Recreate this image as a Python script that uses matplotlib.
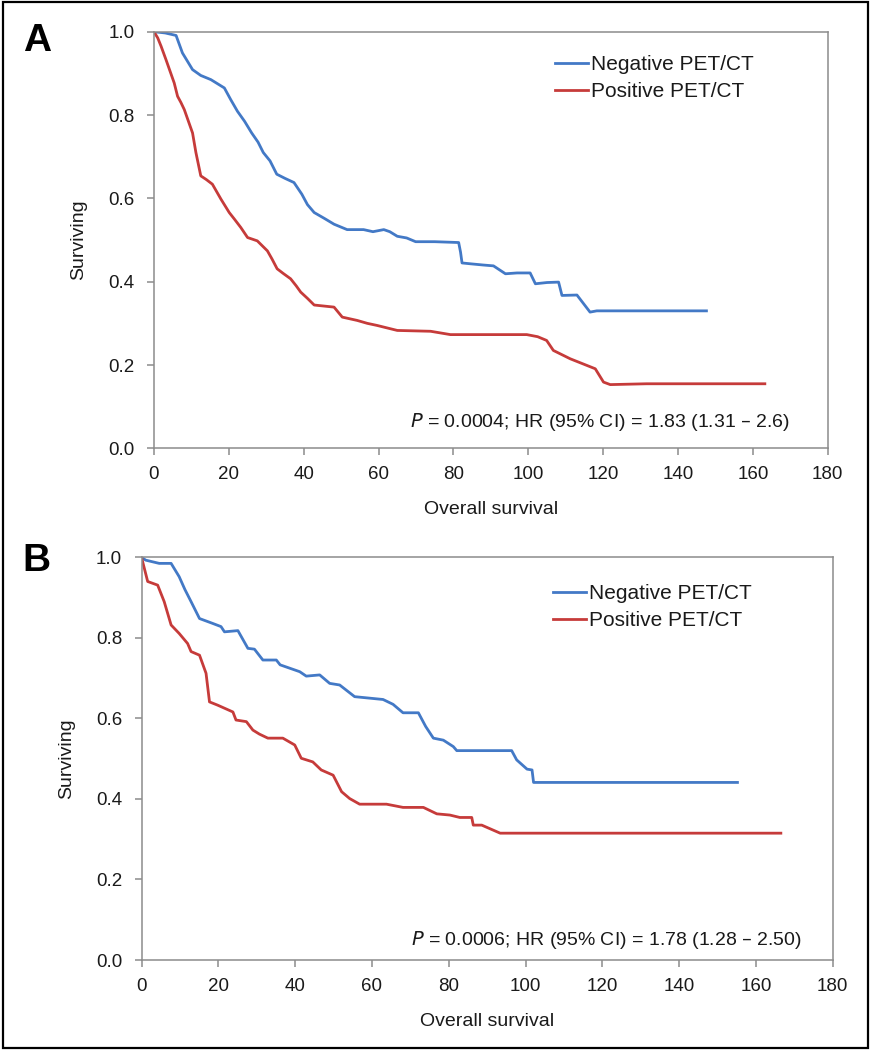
import matplotlib
matplotlib.use("Agg")
import matplotlib.pyplot as plt
from matplotlib.patches import Rectangle

plt.rcParams['font.family'] = ['Liberation Sans', 'DejaVu Sans']

# Panel A - overall survival (months) vs surviving fraction
a_neg_t = [0, 3, 5.9, 7.6, 10.3, 12.5, 15.2, 18.8, 20.5, 22.3, 24.2, 26.1, 27.8, 29.2, 31.0,
           32.8, 35.0, 37.4, 39.5, 41.0, 42.8, 45.5, 48.1, 51.6, 56, 58.5, 61.4, 63, 65, 67.5,
           69.9, 75, 81.4, 81.9, 82.3, 84.5, 88, 90.7, 93.9, 97, 100.5, 101.9, 105, 108.1,
           109, 113, 116.5, 118.3, 147.6]
a_neg_s = [1.0, 0.997, 0.991, 0.949, 0.909, 0.895, 0.885, 0.865, 0.837, 0.809, 0.785, 0.757,
           0.735, 0.71, 0.69, 0.658, 0.648, 0.638, 0.61, 0.585, 0.566, 0.552, 0.538, 0.525,
           0.525, 0.52, 0.525, 0.52, 0.509, 0.505, 0.496, 0.496, 0.494, 0.471, 0.445, 0.443,
           0.44, 0.438, 0.419, 0.421, 0.421, 0.395, 0.398, 0.399, 0.367, 0.368, 0.327, 0.330,
           0.330]
a_pos_t = [0, 1.0, 1.9, 3.2, 4.3, 5.4, 6.3, 7.2, 8.1, 9.2, 10.3, 11.2, 12.5, 14.0, 15.6, 17.9,
           20.1, 21.5, 23.2, 25, 27.6, 30.3, 31.5, 32.9, 34.5, 36.5, 38, 39.2, 41, 42.8, 48.1,
           50.3, 54.3, 57, 59.6, 65, 73.9, 79.2, 99.6, 102.5, 104.9, 106.7, 111.2, 117.9,
           120.1, 121.9, 131.6, 163.2]
a_pos_s = [1.0, 0.985, 0.965, 0.933, 0.905, 0.877, 0.845, 0.83, 0.813, 0.785, 0.757, 0.71,
           0.654, 0.645, 0.634, 0.598, 0.566, 0.55, 0.530, 0.506, 0.498, 0.474, 0.455, 0.431,
           0.42, 0.407, 0.39, 0.375, 0.36, 0.344, 0.339, 0.315, 0.307, 0.3, 0.295, 0.283,
           0.281, 0.273, 0.273, 0.268, 0.259, 0.235, 0.215, 0.191, 0.159, 0.153, 0.155, 0.155]

# Panel B
b_neg_t = [0, 1.1, 4.6, 7.7, 9.8, 11.3, 12.9, 15.1, 18.5, 20.7, 21.6, 25.1, 27.7, 29.4, 31.6,
           35.1, 36.1, 41.2, 42.9, 46.4, 49, 51.6, 55.5, 62.9, 65.5, 68.1, 72.1, 74, 76, 78.6,
           81.2, 82.1, 96.4, 97.7, 100.4, 101.7, 102.1, 155.2]
b_neg_s = [1.0, 0.993, 0.985, 0.985, 0.952, 0.92, 0.890, 0.848, 0.836, 0.828, 0.815, 0.818,
           0.774, 0.772, 0.745, 0.745, 0.733, 0.716, 0.705, 0.708, 0.687, 0.683, 0.654, 0.647,
           0.635, 0.614, 0.614, 0.58, 0.551, 0.546, 0.53, 0.52, 0.52, 0.497, 0.474, 0.472,
           0.441, 0.441]
b_pos_t = [0, 1.6, 4.2, 5.9, 7.7, 9.8, 12, 12.9, 15.1, 16.8, 17.7, 19.8, 23.8, 24.6, 27.3, 29,
           30.7, 32.9, 36.8, 39.9, 41.6, 44.6, 46.8, 49.9, 52.1, 54.2, 56.8, 63.8, 68.1, 73.4,
           76.9, 80.3, 82.9, 86, 86.4, 88.6, 93.4, 166.5]
b_pos_s = [1.0, 0.94, 0.931, 0.890, 0.832, 0.811, 0.786, 0.766, 0.757, 0.712, 0.641, 0.633,
           0.616, 0.596, 0.592, 0.571, 0.561, 0.551, 0.551, 0.534, 0.501, 0.492, 0.472, 0.459,
           0.418, 0.401, 0.387, 0.387, 0.379, 0.379, 0.363, 0.36, 0.354, 0.354, 0.335, 0.335,
           0.315, 0.315]

labels = ["Negative PET/CT", "Positive PET/CT"]
stats = ["$\\it{P}$ = 0.0004; HR (95% CI) = 1.83 (1.31 – 2.6)",
         "$\\it{P}$ = 0.0006; HR (95% CI) = 1.78 (1.28 – 2.50)"]

blue = "#4379C6"
red = "#C63B3A"
gray = "#8C8C8C"

fig = plt.figure(figsize=(8.71, 10.5), dpi=100)

ax_a = fig.add_axes([0.1768, 0.5730, 0.7735, 0.3968])
ax_b = fig.add_axes([0.1625, 0.0857, 0.7935, 0.3835])

panels = [
    (ax_a, a_neg_t, a_neg_s, a_pos_t, a_pos_s, stats[0], 170.0, 0.063, 0.944),
    (ax_b, b_neg_t, b_neg_s, b_pos_t, b_pos_s, stats[1], 171.9, 0.050, 0.934),
]

for ax, nt, ns, pt, ps, txt, tx, ty, ly in panels:
    ax.plot(nt, ns, color=blue, lw=2.0, label=labels[0])
    ax.plot(pt, ps, color=red, lw=2.0, label=labels[1])
    ax.set_xlim(0, 180)
    ax.set_ylim(0, 1.0)
    ax.set_xticks(range(0, 181, 20))
    ax.set_yticks([0, 0.2, 0.4, 0.6, 0.8, 1.0])
    ax.set_yticklabels(["0.0", "0.2", "0.4", "0.6", "0.8", "1.0"])
    for s in ax.spines.values():
        s.set_color(gray)
        s.set_linewidth(1.1)
    ax.tick_params(axis="both", direction="out", length=5, width=1.1, color=gray,
                   labelsize=13.5, labelcolor="#1a1a1a")
    ax.tick_params(axis="y", pad=9)
    ax.tick_params(axis="x", pad=8)
    ax.set_xlabel("Overall survival", fontsize=14, labelpad=13, color="#1a1a1a")
    ax.set_ylabel("Surviving", fontsize=14, labelpad=15, color="#1a1a1a")
    ax.text(tx, ty, txt, ha="right", va="center", fontsize=14, color="#1a1a1a")
    leg = ax.legend(loc="upper left", bbox_to_anchor=(0.595, ly), frameon=False,
                    fontsize=15, handlelength=1.6, handletextpad=0.12,
                    labelspacing=0.4, borderaxespad=0, borderpad=0)
    for t in leg.get_texts():
        t.set_color("#1a1a1a")

fig.text(0.043, 0.961, "A", fontsize=28, fontweight="bold", ha="center", va="center")
fig.text(0.042, 0.466, "B", fontsize=28, fontweight="bold", ha="center", va="center")

# black frame round the whole figure
fig.patches.append(Rectangle((0.003, 0.002), 0.994, 0.996, transform=fig.transFigure,
                             fill=False, edgecolor="black", linewidth=1.6))

fig.savefig("out.png", dpi=100)
